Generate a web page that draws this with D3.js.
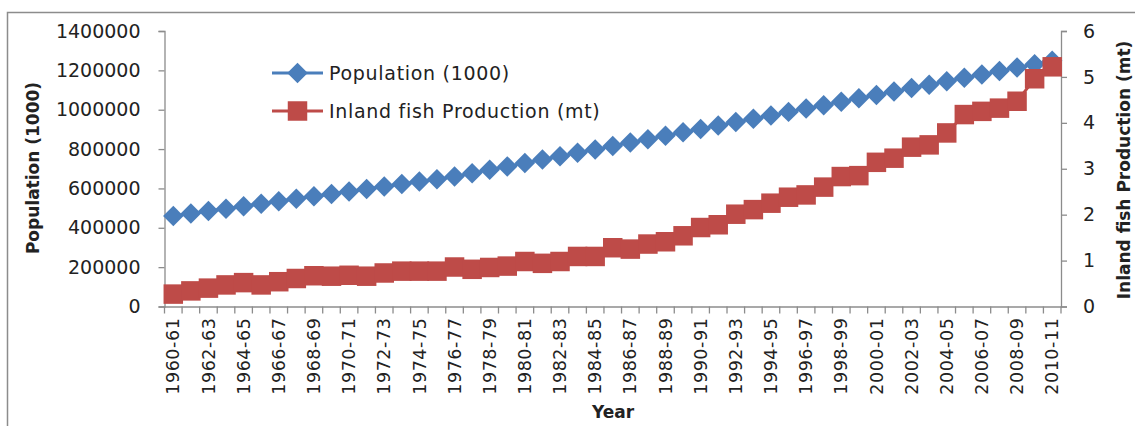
<!DOCTYPE html>
<meta charset="utf-8">
<script src="https://d3js.org/d3.v7.min.js"></script>
<style>
  body { margin: 0; background: #fff; }
  text { font-family: "DejaVu Sans", sans-serif; fill: #222; }
</style>
<svg id="chart"></svg>
<script>
// categories (financial years)
var years = [];
for (var y = 1960; y <= 2010; y++) years.push(y + "-" + String((y + 1) % 100).padStart(2, "0"));

// Population (1000)
var population = [460000, 472000, 485000, 497000, 510000, 522000, 535000, 547000, 560000, 572000,
  585000, 597000, 610000, 622000, 635000, 647000, 660000, 677000, 695000, 712000,
  729000, 747000, 764000, 781000, 798000, 816000, 833000, 850000, 868000, 885000,
  902000, 920000, 937000, 954000, 971000, 989000, 1006000, 1023000, 1041000, 1058000,
  1075000, 1093000, 1110000, 1127000, 1145000, 1162000, 1179000, 1197000, 1214000, 1231000,
  1249000];

// Inland fish production (mt)
var fish = [0.27, 0.34, 0.40, 0.47, 0.52, 0.47, 0.54, 0.61, 0.67, 0.66,
  0.68, 0.66, 0.73, 0.77, 0.77, 0.77, 0.86, 0.81, 0.85, 0.88,
  0.98, 0.94, 0.98, 1.09, 1.09, 1.28, 1.25, 1.36, 1.41, 1.54,
  1.72, 1.78, 2.01, 2.11, 2.25, 2.38, 2.43, 2.60, 2.83, 2.85,
  3.14, 3.23, 3.47, 3.52, 3.78, 4.18, 4.25, 4.32, 4.47, 4.96,
  5.22];

var leftTicks = [0, 200000, 400000, 600000, 800000, 1000000, 1200000, 1400000];
var rightTicks = [0, 1, 2, 3, 4, 5, 6];

var W = 1135, H = 426;
var blue = "#4a7ebb", red = "#be4b48", axisCol = "#8c8c8c";

var svg = d3.select("#chart").attr("width", W).attr("height", H);

// outer frame (cut off at right/bottom like the reference)
svg.append("rect").attr("x", 7.5).attr("y", 12.5).attr("width", W).attr("height", H)
  .attr("fill", "none").attr("stroke", axisCol).attr("stroke-width", 1.5);

var x = d3.scaleBand().domain(years).range([164.5, 1061]);
var yL = d3.scaleLinear().domain([0, 1400000]).range([306.5, 31]);
var yR = d3.scaleLinear().domain([0, 6]).range([306.5, 31]);
var cx = function (d) { return x(d) + x.bandwidth() / 2; };

// left axis
var gl = svg.append("g").attr("transform", "translate(164.5,0)")
  .call(d3.axisLeft(yL).tickValues(leftTicks).tickSize(6).tickPadding(18).tickFormat(d3.format("d")));
// right axis
var gr = svg.append("g").attr("transform", "translate(1061,0)")
  .call(d3.axisRight(yR).tickValues(rightTicks).tickSize(6).tickPadding(16).tickFormat(d3.format("d")));
[gl, gr].forEach(function (g) {
  g.select(".domain").attr("stroke", axisCol).attr("stroke-width", 1.3);
  g.selectAll(".tick line").attr("stroke", axisCol).attr("stroke-width", 1.3);
  g.selectAll(".tick text").style("font-size", "19px").attr("fill", "#222").style("font-family", "DejaVu Sans");
});

// bottom axis: labels every other year, tick marks at band edges
var gx = svg.append("g").attr("transform", "translate(0,306.5)")
  .call(d3.axisBottom(x).tickValues(years.filter(function (d, i) { return i % 2 === 0; })).tickSize(0));
gx.select(".domain").attr("stroke", axisCol).attr("stroke-width", 1.3);
gx.selectAll(".tick text")
  .attr("transform", "rotate(-90)").attr("text-anchor", "end")
  .attr("x", -11).attr("y", 0).attr("dy", "0.35em")
  .style("font-size", "17.5px").style("letter-spacing", "0.6px").style("font-family", "DejaVu Sans").attr("fill", "#222");
var edges = years.map(function (d) { return x(d); }).concat([x.range()[1]]);
gx.selectAll(".edge").data(edges).enter().append("line")
  .attr("x1", function (d) { return d; }).attr("x2", function (d) { return d; })
  .attr("y1", 0).attr("y2", 7).attr("stroke", axisCol).attr("stroke-width", 1.3);

// axis titles
svg.append("text").attr("transform", "translate(39,168) rotate(-90)").attr("text-anchor", "middle")
  .style("font-weight", "bold").style("font-size", "17px").text("Population (1000)");
svg.append("text").attr("transform", "translate(1130,170) rotate(-90)").attr("text-anchor", "middle")
  .style("font-weight", "bold").style("font-size", "17px").text("Inland fish Production (mt)");
svg.append("text").attr("x", 613).attr("y", 418).attr("text-anchor", "middle")
  .style("font-weight", "bold").style("font-size", "17px").text("Year");

var diamond = d3.symbol().type(d3.symbolSquare).size(210);
var square = d3.symbol().type(d3.symbolSquare).size(380);

// population series
svg.append("path").datum(years)
  .attr("fill", "none").attr("stroke", blue).attr("stroke-width", 3)
  .attr("d", d3.line().x(cx).y(function (d, i) { return yL(population[i]); }));
svg.append("g").selectAll("path").data(years).enter().append("path")
  .attr("d", diamond).attr("fill", blue)
  .attr("transform", function (d, i) { return "translate(" + cx(d) + "," + yL(population[i]) + ") rotate(45)"; });

// fish series
svg.append("path").datum(years)
  .attr("fill", "none").attr("stroke", red).attr("stroke-width", 3)
  .attr("d", d3.line().x(cx).y(function (d, i) { return yR(fish[i]); }));
svg.append("g").selectAll("path").data(years).enter().append("path")
  .attr("d", square).attr("fill", red)
  .attr("transform", function (d, i) { return "translate(" + cx(d) + "," + yR(fish[i]) + ")"; });

// legend
var legend = [
  { name: "Population (1000)", color: blue, sym: diamond, rot: 45, y: 73 },
  { name: "Inland fish Production (mt)", color: red, sym: square, rot: 0, y: 111 }
];
var lg = svg.append("g").selectAll("g").data(legend).enter().append("g")
  .attr("transform", function (d) { return "translate(272," + d.y + ")"; });
lg.append("line").attr("x1", 0).attr("x2", 51).attr("stroke", function (d) { return d.color; }).attr("stroke-width", 3);
lg.append("path").attr("d", function (d) { return d.sym(); }).attr("fill", function (d) { return d.color; })
  .attr("transform", function (d) { return "translate(25.5,0) rotate(" + d.rot + ")"; });
lg.append("text").attr("x", 57).attr("dy", "0.35em").style("font-size", "19px").style("letter-spacing", "0.7px")
  .text(function (d) { return d.name; });
</script>
